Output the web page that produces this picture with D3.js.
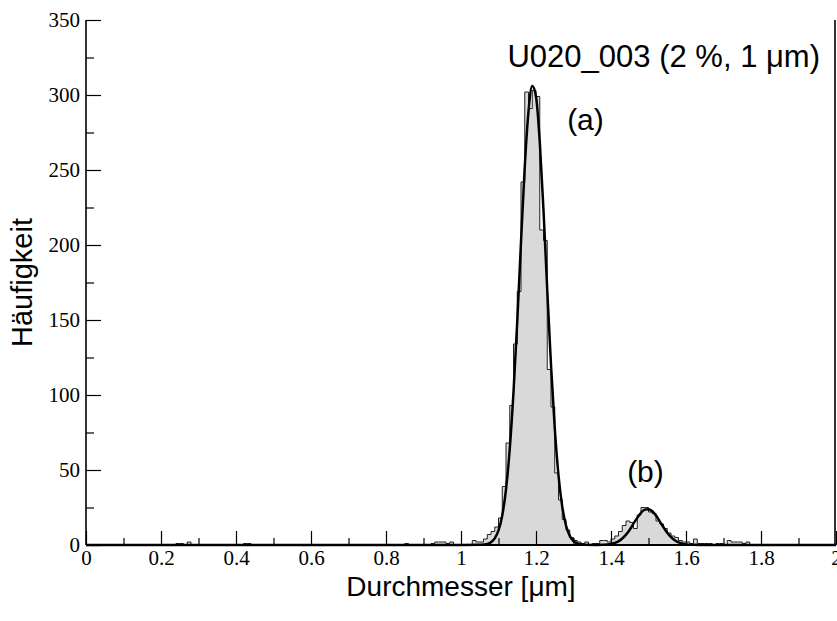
<!DOCTYPE html>
<html>
<head>
<meta charset="utf-8">
<script src="https://cdn.jsdelivr.net/npm/d3@7"></script>
<style>
  body { margin: 0; background: #fff; }
  .tick text { font-family: "Liberation Serif", "DejaVu Serif", serif; font-size: 21px; fill: #000; }
  .label { font-family: "Liberation Sans", Arial, sans-serif; fill: #000; }
</style>
</head>
<body>
<div id="chart"></div>
<script>
// histogram: left edge of each 0.01 wide bin and its count (only non-empty bins)
const binLeft = [0.24, 0.25, 0.27, 0.42, 0.43, 0.85, 0.92, 0.93, 0.94, 0.95, 0.96, 0.97,
  1.03, 1.04, 1.05, 1.06, 1.07, 1.08, 1.09, 1.10, 1.11, 1.12, 1.13, 1.14, 1.15, 1.16, 1.17, 1.18, 1.19,
  1.20, 1.21, 1.22, 1.23, 1.24, 1.25, 1.26, 1.27, 1.28, 1.29, 1.30, 1.31, 1.32, 1.33, 1.35, 1.36, 1.37,
  1.38, 1.39, 1.40, 1.41, 1.42, 1.43, 1.44, 1.45, 1.46, 1.47, 1.48, 1.49, 1.50, 1.51, 1.52, 1.53, 1.54,
  1.55, 1.56, 1.57, 1.58, 1.59, 1.60, 1.61, 1.62, 1.63, 1.64, 1.65, 1.66, 1.68, 1.69, 1.71, 1.72, 1.73,
  1.74, 1.75, 1.76];
const binCount = [1, 1, 2, 1, 1, 1, 1, 2, 2, 2, 1, 2,
  3, 2, 2, 4, 7, 9, 12, 18, 39, 68, 93, 134, 169, 242, 302, 291, 303,
  299, 210, 203, 117, 92, 48, 30, 17, 10, 5, 3, 2, 1, 2, 1, 1, 3,
  3, 2, 4, 6, 9, 13, 16, 15, 11, 20, 25, 25, 22, 21, 16, 14, 11,
  8, 6, 5, 3, 2, 2, 1, 4, 1, 1, 1, 1, 1, 1, 3, 2, 2,
  2, 1, 2];

// fitted curve
const fitX = [0, 1.00, 1.05, 1.06, 1.07, 1.08, 1.09, 1.10, 1.11, 1.12, 1.13, 1.14, 1.15, 1.16, 1.17, 1.18,
  1.19, 1.20, 1.21, 1.22, 1.23, 1.24, 1.25, 1.26, 1.27, 1.28, 1.29, 1.30, 1.31, 1.32, 1.33, 1.36,
  1.38, 1.40, 1.41, 1.42, 1.43, 1.44, 1.45, 1.46, 1.47, 1.48, 1.49, 1.50, 1.51, 1.52, 1.53, 1.54,
  1.55, 1.56, 1.57, 1.58, 1.59, 1.60, 1.62, 1.64, 2];
const fitY = [0, 0, 0.1, 0.3, 0.7, 1.8, 4.4, 9.7, 19.7, 37, 64, 102, 149, 202, 252, 289,
  306, 299, 269, 223, 170, 120, 78, 46.5, 25.6, 13, 6.1, 2.6, 1.1, 0.4, 0.1, 0,
  0.1, 0.6, 1.3, 2.4, 4.3, 6.9, 10.2, 14.2, 18.1, 21.5, 23.6, 23.9, 22.5, 19.6, 15.8, 11.8,
  8.1, 5.2, 3.1, 1.7, 0.9, 0.4, 0.1, 0, 0];

const xMajor = [0, 0.2, 0.4, 0.6, 0.8, 1, 1.2, 1.4, 1.6, 1.8, 2];
const xMinor = [0.1, 0.3, 0.5, 0.7, 0.9, 1.1, 1.3, 1.5, 1.7, 1.9];
const yMajor = [0, 50, 100, 150, 200, 250, 300, 350];
const yMinor = [25, 75, 125, 175, 225, 275, 325];

const title = "U020_003 (2 %, 1 \u03bcm)";
const peakLabels = [{text: "(a)", x: 1.283, y: 277}, {text: "(b)", x: 1.443, y: 42}];

const W = 837, H = 621;
const margin = {top: 20, right: 1, bottom: 76, left: 86};
const binWidth = 0.01;

const svg = d3.select("#chart").append("svg")
    .attr("width", W)
    .attr("height", H);

const x = d3.scaleLinear().domain([0, 2]).range([margin.left, W - margin.right]);
const y = d3.scaleLinear().domain([0, 350]).range([H - margin.bottom, margin.top]);

// full list of bins from 0 to 2, empty ones at 0
let countOf = new Map(binLeft.map((b, i) => [Math.round(b * 100), binCount[i]]));
let bins = d3.range(0, 200).map(k => ({x: k * binWidth, c: countOf.get(k) || 0}));
bins.push({x: 2, c: 0});

const area = d3.area()
    .curve(d3.curveStepAfter)
    .x(d => x(d.x))
    .y0(y(0))
    .y1(d => y(d.c));

svg.append("path")
    .datum(bins)
    .attr("d", area)
    .attr("fill", "#d9d9d9")
    .attr("stroke", "#222")
    .attr("stroke-width", 1);

// fit curve
const line = d3.line()
    .curve(d3.curveMonotoneX)
    .x((d, i) => x(fitX[i]))
    .y(d => y(d));

svg.append("path")
    .datum(fitY)
    .attr("d", line)
    .attr("fill", "none")
    .attr("stroke", "#000")
    .attr("stroke-width", 2.5);

// axes with inward ticks
let gx = svg.append("g")
    .attr("transform", "translate(0," + y(0) + ")")
    .call(d3.axisBottom(x).tickValues(xMajor).tickSize(-14).tickPadding(5).tickFormat(d3.format("")));
let gxm = svg.append("g")
    .attr("transform", "translate(0," + y(0) + ")")
    .call(d3.axisBottom(x).tickValues(xMinor).tickSize(-7).tickFormat(""));
let gy = svg.append("g")
    .attr("transform", "translate(" + x(0) + ",0)")
    .call(d3.axisLeft(y).tickValues(yMajor).tickSize(-15).tickPadding(6));
let gym = svg.append("g")
    .attr("transform", "translate(" + x(0) + ",0)")
    .call(d3.axisLeft(y).tickValues(yMinor).tickSize(-8).tickFormat(""));

[gx, gxm, gy, gym].forEach(g => {
    g.select(".domain").remove();
    g.selectAll(".tick line").attr("stroke", "#000").attr("stroke-width", 1.2);
});

// frame lines
svg.append("line")
    .attr("x1", x(0)).attr("x2", x(2))
    .attr("y1", y(0)).attr("y2", y(0))
    .attr("stroke", "#000").attr("stroke-width", 2.2);
svg.append("line")
    .attr("x1", x(0)).attr("x2", x(0))
    .attr("y1", y(350)).attr("y2", y(0))
    .attr("stroke", "#000").attr("stroke-width", 1.6);
svg.append("line")
    .attr("x1", x(2) - 1).attr("x2", x(2) - 1)
    .attr("y1", y(350)).attr("y2", y(0))
    .attr("stroke", "#000").attr("stroke-width", 1.6);

// texts
svg.append("text")
    .attr("class", "label")
    .attr("x", 820)
    .attr("y", 67)
    .attr("text-anchor", "end")
    .style("font-size", "31px")
    .text(title);

svg.selectAll(".peak")
    .data(peakLabels)
    .enter().append("text")
    .attr("class", "label peak")
    .attr("x", d => x(d.x))
    .attr("y", d => y(d.y))
    .style("font-size", "30px")
    .text(d => d.text);

svg.append("text")
    .attr("class", "label")
    .attr("x", (x(0) + x(2)) / 2)
    .attr("y", 596)
    .attr("text-anchor", "middle")
    .style("font-size", "28px")
    .text("Durchmesser [\u03bcm]");

svg.append("text")
    .attr("class", "label")
    .attr("transform", "translate(32," + y(175) + ") rotate(-90)")
    .attr("text-anchor", "middle")
    .style("font-size", "29px")
    .text("H\u00e4ufigkeit");
</script>
</body>
</html>
